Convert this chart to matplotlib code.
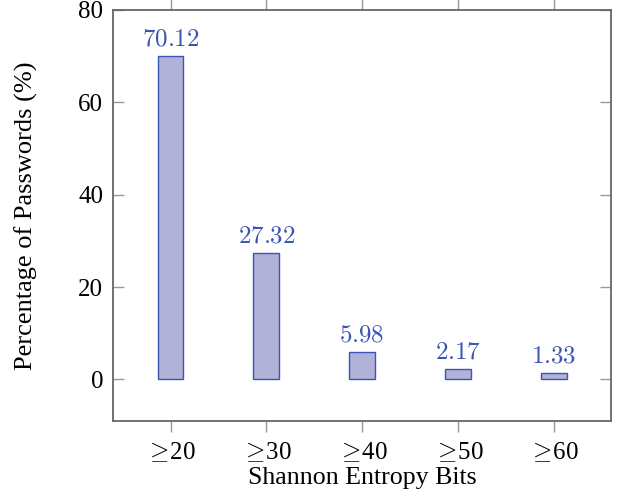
import matplotlib
matplotlib.use('Agg')
import matplotlib.pyplot as plt

categories = [r'${\geq}\!$20', r'${\geq}\!$30', r'${\geq}\!$40', r'${\geq}\!$50', r'${\geq}\!$60']
percentages = [70.12, 27.32, 5.98, 2.17, 1.33]
labels = ['70.12', '27.32', '5.98', '2.17', '1.33']

plt.rcParams['font.family'] = 'Liberation Serif'
plt.rcParams['mathtext.fontset'] = 'cm'

fig = plt.figure(figsize=(6.18, 4.92), dpi=100)
ax = fig.add_axes([0.183, 0.1443, 0.806, 0.8354])

edge = '#3b55b3'
x = range(len(categories))
ax.bar(x, percentages, width=0.27, color='#b2b2d9', edgecolor=edge, linewidth=1.0)

# value labels above bars (computer modern like the latex original)
for xi, v, s in zip(x, percentages, labels):
    ax.annotate('$' + s + '$', (xi, v), xytext=(0, 4), textcoords='offset points',
                ha='center', va='bottom', color=edge, fontsize=18)

ax.set_xlim(-0.6, 4.6)
ax.set_ylim(-9, 80)
ax.set_xticks(list(x))
ax.set_xticklabels(categories, fontsize=18)
ax.set_yticks([0, 20, 40, 60, 80])
ax.tick_params(axis='y', direction='in', left=True, right=True, labelsize=18,
               length=8, width=1.0, pad=7, color='#999999')
ax.tick_params(axis='x', direction='out', bottom=True, top=True, length=8,
               width=1.0, pad=6, color='#999999')
for sp in ax.spines.values():
    sp.set_color('#666666')
    sp.set_linewidth(1.3)

ax.set_xlabel('Shannon Entropy Bits', fontsize=18.6)
ax.set_ylabel('Percentage of Passwords (%)', fontsize=19)
ax.xaxis.set_label_coords(0.5, -0.112)
ax.yaxis.set_label_coords(-0.151, 0.5)

fig.savefig('out.png', dpi=100)
